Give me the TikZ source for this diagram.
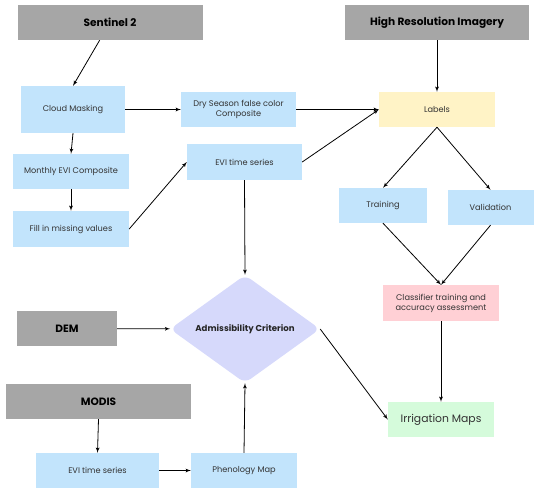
\documentclass[tikz,border=0pt]{standalone}
\usepackage{fontspec}
\setmainfont{Poppins}
\usepackage{tikz}
\usetikzlibrary{shapes,arrows}
\definecolor{srcgray}{HTML}{A6A6A6}
\definecolor{stepblue}{HTML}{C2E4FC}
\definecolor{lblyellow}{HTML}{FFF3C6}
\definecolor{clfpink}{HTML}{FFD0D5}
\definecolor{mapgreen}{HTML}{D5FBDB}
\definecolor{critblue}{HTML}{D6D9FB}
\tikzstyle{source} = [rectangle, fill=srcgray, text centered, font=\bfseries\fontsize{10.6}{12}\selectfont, inner sep=0pt]
\tikzstyle{block} = [rectangle, fill=stepblue, text centered, text=black!80, font=\fontsize{8.2}{10}\selectfont, inner sep=0pt, align=center]
\tikzstyle{crit} = [diamond, fill=critblue, rounded corners=7pt, inner sep=0pt, aspect=1.39, font=\bfseries\fontsize{8.6}{10}\selectfont, text=black!85]
\tikzstyle{line} = [draw, -latex', line width=0.8pt, black]

\begin{document}
\begin{tikzpicture}[x=1pt,y=-1pt]
\useasboundingbox (0,0) rectangle (534,488);
\node [source, minimum width=185, minimum height=35] (sentinel) at (110,22.5) {Sentinel 2};
\node [source, minimum width=184, minimum height=35] (hires) at (437,22.5) {High Resolution Imagery};
\node [block, minimum width=104, minimum height=47] (cloud) at (73,109.5) {Cloud Masking};
\node [block, minimum width=115, minimum height=35] (dry) at (238.5,109.5) {Dry Season false color\\Composite};
\node [block, minimum width=116, minimum height=35] (monthly) at (71,171.5) {Monthly EVI Composite};
\node [block, minimum width=116, minimum height=36] (fill) at (71,229) {Fill in missing values};
\node [block, minimum width=115, minimum height=36] (evi) at (244.5,162) {EVI time series};
\node [block, fill=lblyellow, minimum width=116, minimum height=35] (labels) at (437,109.5) {Labels};
\node [block, minimum width=88, minimum height=35] (train) at (383,205.5) {Training};
\node [block, minimum width=86, minimum height=35] (valid) at (490.5,207.5) {Validation};
\node [block, fill=clfpink, minimum width=116, minimum height=36] (classifier) at (441,303) {Classifier training and\\accuracy assessment};
\node [block, fill=mapgreen, minimum width=106, minimum height=35, font=\fontsize{10.8}{12}\selectfont] (irrmaps) at (441,419.5) {Irrigation Maps};
\node [crit, minimum width=150, minimum height=108] (admiss) at (245,329) {Admissibility Criterion};
\node [source, minimum width=100, minimum height=35] (dem) at (67,328.5) {DEM};
\node [source, minimum width=185, minimum height=35] (modis) at (98.5,401.5) {MODIS};
\node [block, minimum width=123, minimum height=35] (evimodis) at (97.5,470.5) {EVI time series};
\node [block, minimum width=106, minimum height=35] (pheno) at (244,470.5) {Phenology Map};
% sentinel 2 branch
\path [line] (sentinel) -- (cloud.north);
\path [line] (cloud) -- (dry);
\path [line] (cloud.south) -- (monthly.north);
\path [line] (monthly) -- (fill);
\path [line] (fill.east) -- (evi.west);
\path [line] (dry.east) -- (labels.west);
\path [line] (evi.east) -- (labels.west);
\path [line] (evi.south) -- (admiss.north);
% labels branch
\path [line] (hires) -- (labels);
\path [line] (labels.south) -- (train.north);
\path [line] (labels.south) -- (valid.north);
\path [line] (train.south) -- (classifier.north);
\path [line] (valid.south) -- (classifier.north);
\path [line] (classifier) -- (irrmaps);
% criterion
\path [line] (dem) -- (admiss);
\path [line] (modis.south) -- (evimodis.north);
\path [line] (evimodis) -- (pheno);
\path [line] (pheno.north) -- (admiss.south);
\path [line] (admiss.east) -- (irrmaps.west);
\end{tikzpicture}
\end{document}
